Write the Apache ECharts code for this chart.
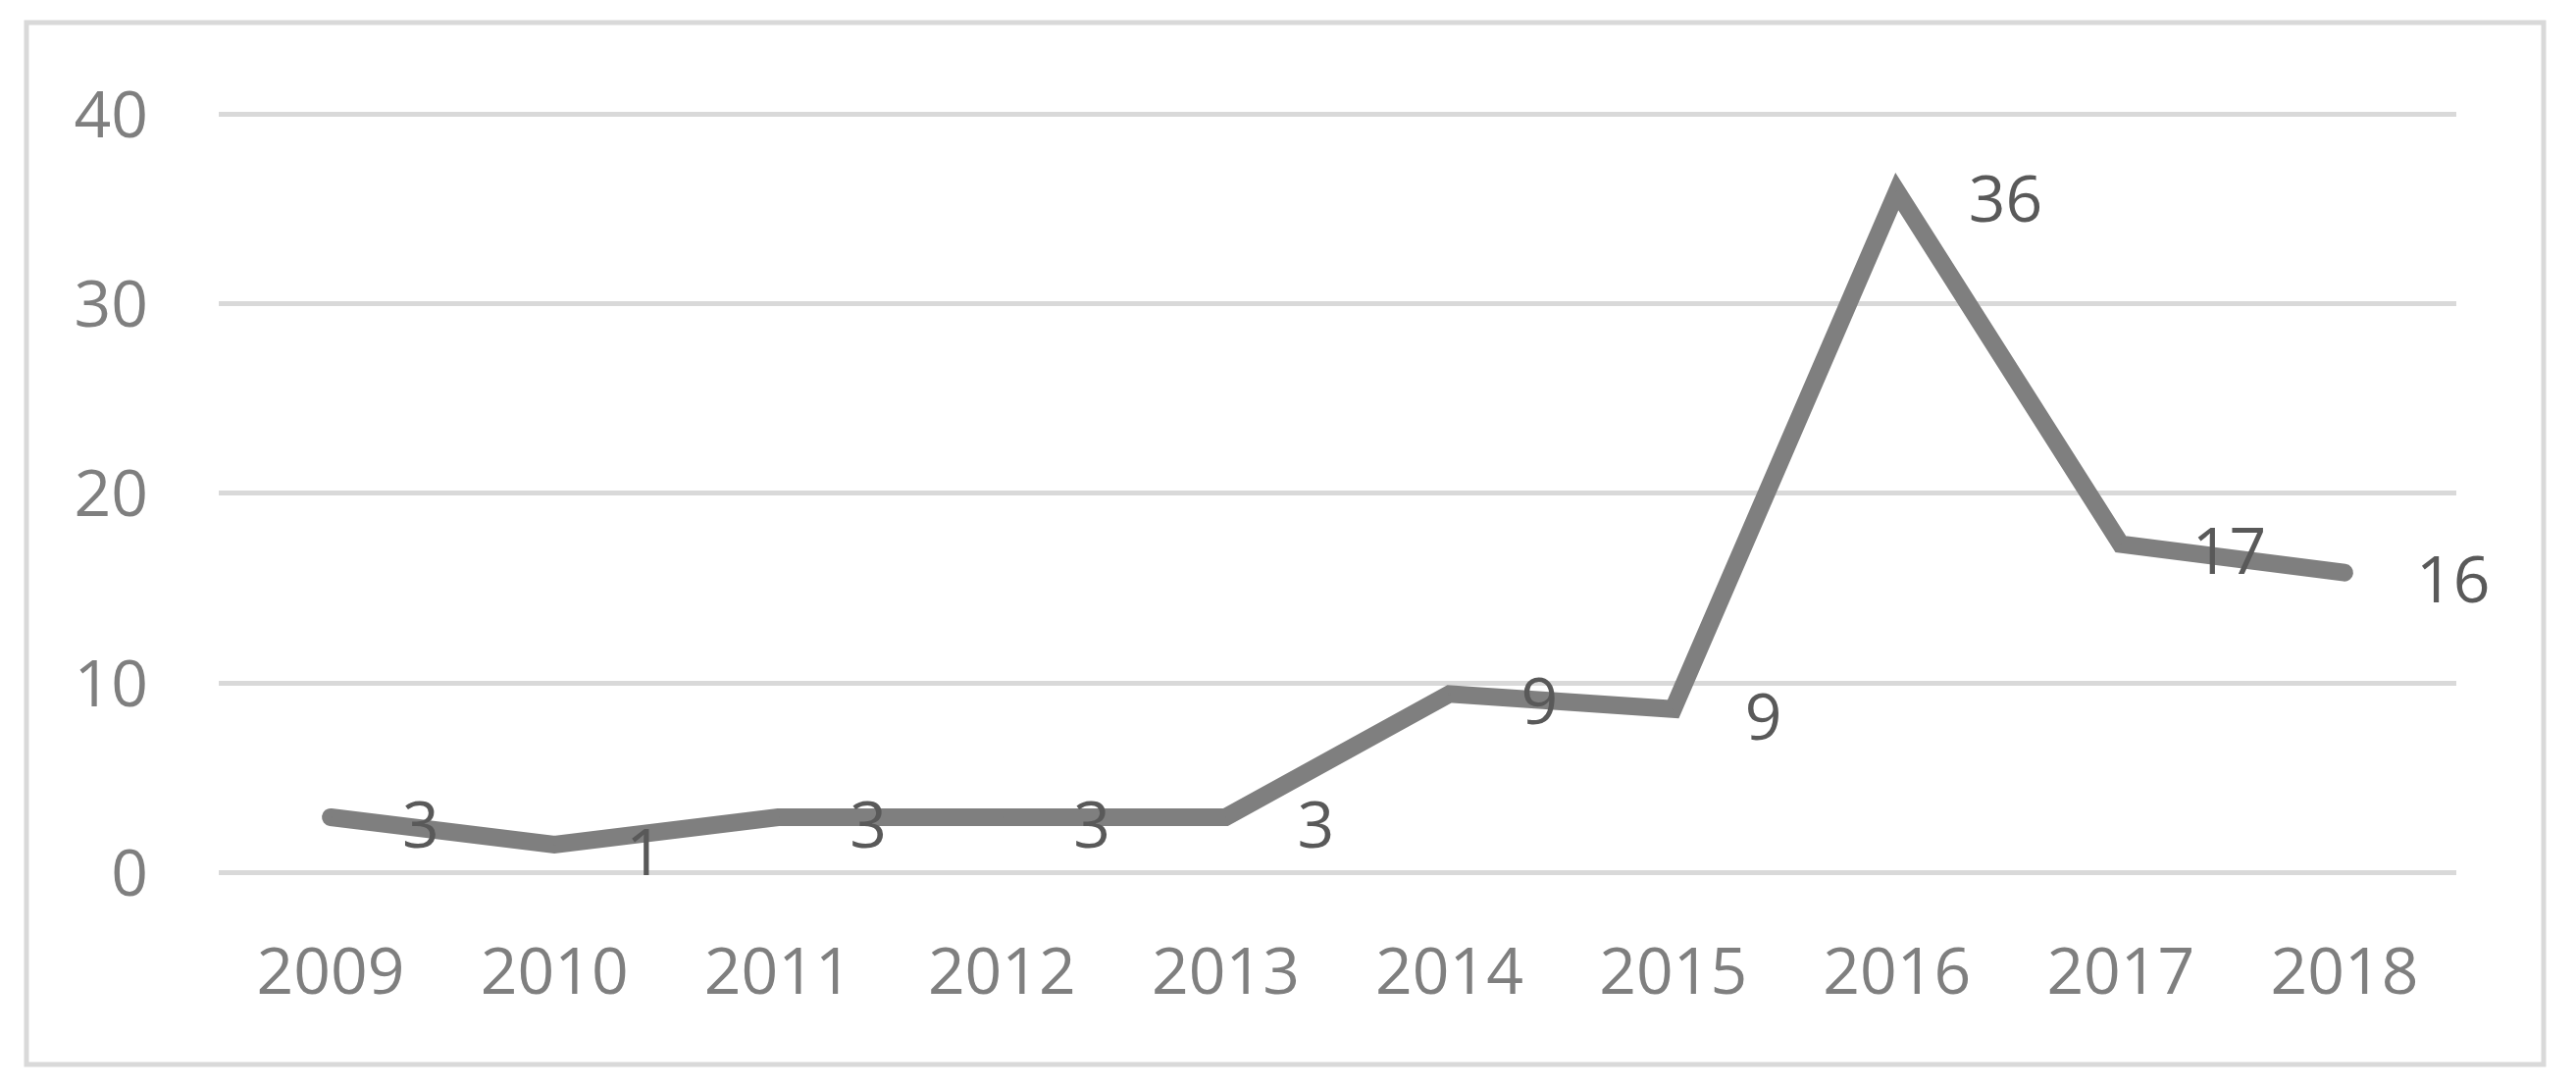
<!DOCTYPE html>
<html>
<head>
<meta charset="utf-8">
<script src="https://cdn.jsdelivr.net/npm/echarts@6/dist/echarts.min.js"></script>
<style>
html, body { margin: 0; padding: 0; background: #fff; }
#container { width: 2626px; height: 1109px; }
</style>
</head>
<body>
<div id="container"></div>
<script>
var years = ['2009', '2010', '2011', '2012', '2013', '2014', '2015', '2016', '2017', '2018'];
// plotted positions as drawn in the picture
var counts = [2.9, 1.45, 2.9, 2.9, 2.9, 9.4, 8.6, 35.9, 17.3, 15.8];
// label texts shown next to each point
var labels = [3, 1, 3, 3, 3, 9, 9, 36, 17, 16];
var yTicks = [0, 10, 20, 30, 40];

var font = "'Open Sans', sans-serif";

var dom = document.getElementById("container");
var myChart = echarts.init(dom);
var option = {
    animation: false,
    backgroundColor: '#fff',
    graphic: [{
        type: 'rect',
        shape: {x: 27, y: 23, width: 2566, height: 1062},
        style: {fill: 'none', stroke: '#d9d9d9', lineWidth: 5},
        silent: true
    }],
    grid: {left: 223, right: 122, top: 116, bottom: 220},
    xAxis: {
        type: 'category',
        data: years,
        boundaryGap: true,
        axisLine: {show: false},
        axisTick: {show: false},
        axisLabel: {color: '#7f7f7f', fontSize: 66, fontFamily: font, margin: 72}
    },
    yAxis: {
        type: 'value',
        min: yTicks[0],
        max: yTicks[yTicks.length - 1],
        interval: 10,
        axisLine: {show: false},
        axisTick: {show: false},
        axisLabel: {
            color: '#7f7f7f', fontSize: 66, fontFamily: font, margin: 72,
            formatter: '{v|{value}}',
            rich: {v: {color: '#7f7f7f', fontSize: 66, fontFamily: font, padding: [10, 0, 0, 0]}}
        },
        splitLine: {lineStyle: {color: '#d9d9d9', width: 5}}
    },
    series: [{
        type: 'line',
        data: counts,
        symbol: 'circle',
        symbolSize: 2,
        showSymbol: true,
        itemStyle: {color: '#7f7f7f'},
        lineStyle: {color: '#7f7f7f', width: 18, cap: 'round', join: 'miter'},
        label: {
            show: true,
            position: 'right',
            distance: 72,
            color: '#595959',
            fontSize: 66,
            fontFamily: font,
            formatter: function (p) {
                return labels[p.dataIndex];
            }
        },
        labelLayout: {hideOverlap: false, dy: 12}
    }]
};
myChart.setOption(option);
</script>
</body>
</html>
